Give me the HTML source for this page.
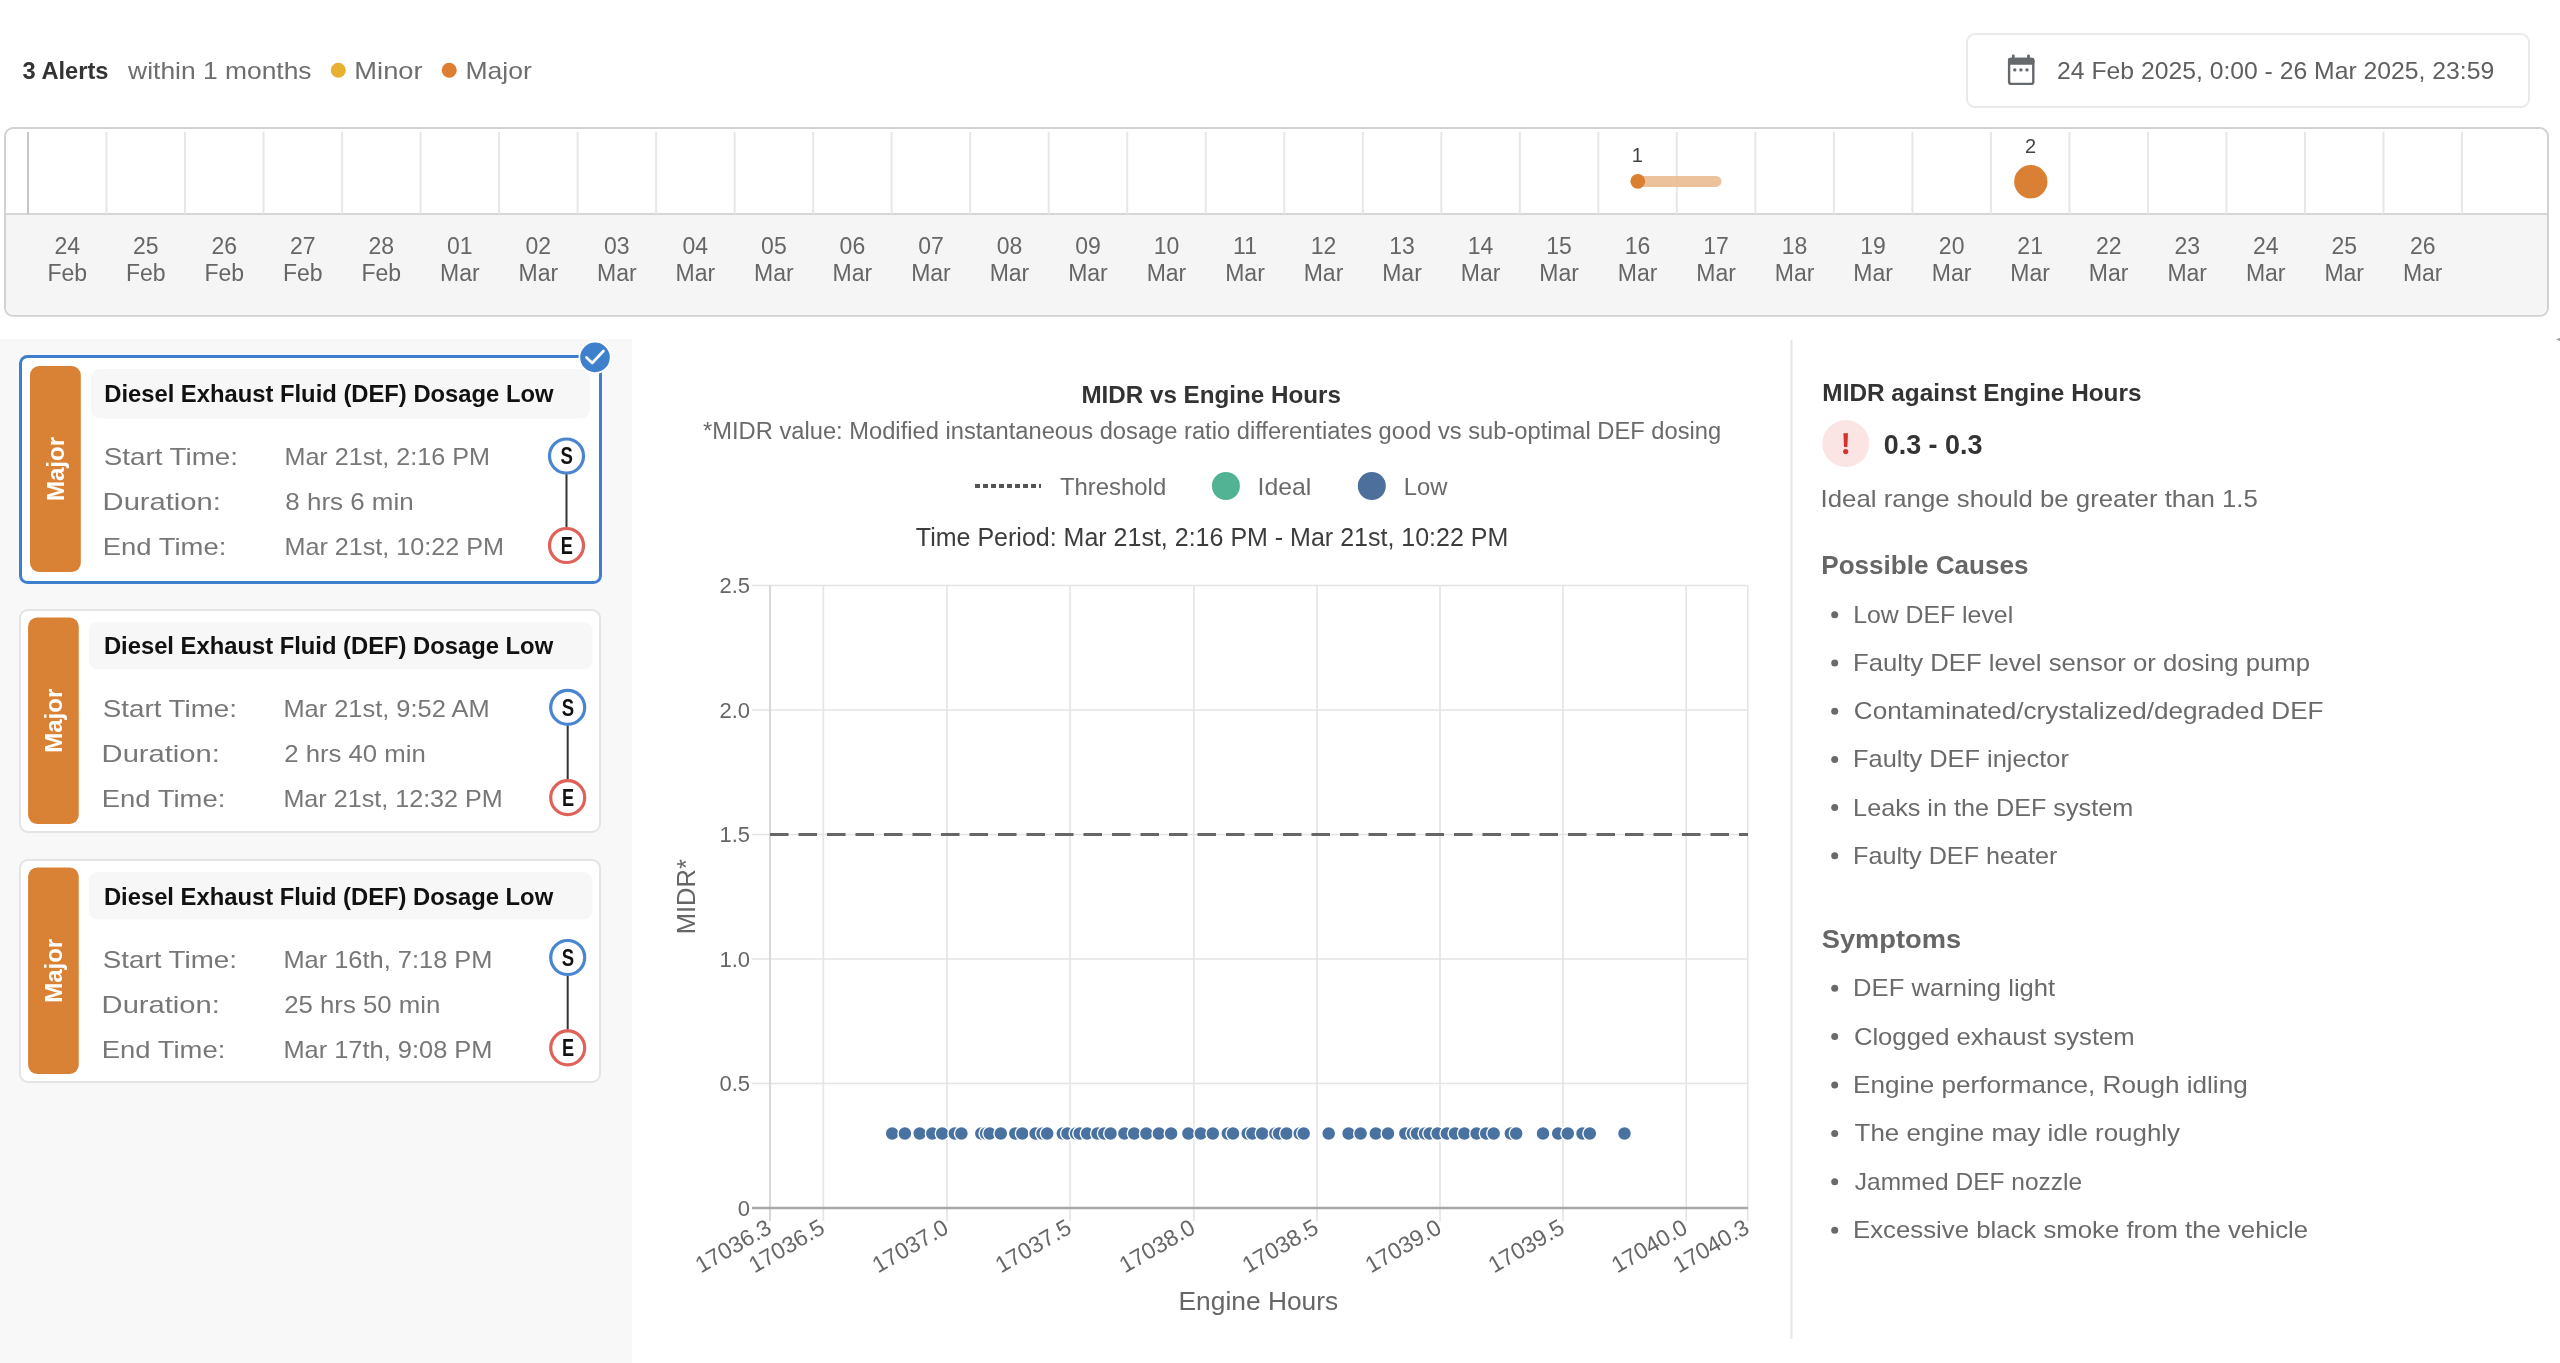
<!DOCTYPE html>
<html><head><meta charset="utf-8"><title>DEF Dosage Alerts</title>
<style>
html,body{margin:0;padding:0;background:#fff;width:2560px;height:1363px;overflow:hidden}
svg{display:block;filter:blur(0.45px);font-family:"Liberation Sans",sans-serif}
</style></head><body>
<svg width="2560" height="1363" viewBox="0 0 2560 1363">
<text x="22.56" y="78.75" font-size="24" font-weight="bold" fill="#333" textLength="85.90" lengthAdjust="spacingAndGlyphs">3 Alerts</text>
<text x="128.14" y="78.75" font-size="24" fill="#6e6e6e" textLength="183.42" lengthAdjust="spacingAndGlyphs">within 1 months</text>
<circle cx="338.3" cy="70.3" r="7.5" fill="#E8B030"/>
<text x="354.36" y="78.75" font-size="24" fill="#6e6e6e" textLength="68.29" lengthAdjust="spacingAndGlyphs">Minor</text>
<circle cx="449.2" cy="70.3" r="7.5" fill="#DD7E32"/>
<text x="465.52" y="78.75" font-size="24" fill="#6e6e6e" textLength="66.32" lengthAdjust="spacingAndGlyphs">Major</text>
<rect x="1967" y="34" width="562" height="73" rx="8" fill="#fff" stroke="#eaeaea" stroke-width="2"/>
<g fill="#65696c"><rect x="2009.1" y="58.9" width="24.2" height="25" rx="2.2" fill="none" stroke="#65696c" stroke-width="2.4"/><rect x="2008" y="57.8" width="26.4" height="7" rx="2"/><rect x="2011.9" y="54.4" width="2.8" height="5.5" rx="1.3"/><rect x="2027.1" y="54.4" width="2.8" height="5.5" rx="1.3"/><circle cx="2014.8" cy="69.9" r="1.7"/><circle cx="2020.9" cy="69.9" r="1.7"/><circle cx="2027" cy="69.9" r="1.7"/></g>
<text x="2057.06" y="78.50" font-size="24" fill="#5f5f5f" textLength="437.11" lengthAdjust="spacingAndGlyphs">24 Feb 2025, 0:00 - 26 Mar 2025, 23:59</text>
<rect x="5" y="128" width="2543" height="187.8" rx="8" fill="#fff" stroke="#d2d2d2" stroke-width="2"/>
<path d="M6 214 H2547 V308 a7 7 0 0 1 -7 7 H13 a7 7 0 0 1 -7 -7 Z" fill="#f5f5f5"/>
<line x1="6" y1="214" x2="2547" y2="214" stroke="#d6d6d6" stroke-width="2"/>
<line x1="28.00" y1="132" x2="28.00" y2="214" stroke="#c6c6c6" stroke-width="2"/>
<line x1="106.52" y1="132" x2="106.52" y2="214" stroke="#e7e7e7" stroke-width="2"/>
<line x1="185.03" y1="132" x2="185.03" y2="214" stroke="#e7e7e7" stroke-width="2"/>
<line x1="263.55" y1="132" x2="263.55" y2="214" stroke="#e7e7e7" stroke-width="2"/>
<line x1="342.06" y1="132" x2="342.06" y2="214" stroke="#e7e7e7" stroke-width="2"/>
<line x1="420.58" y1="132" x2="420.58" y2="214" stroke="#e7e7e7" stroke-width="2"/>
<line x1="499.10" y1="132" x2="499.10" y2="214" stroke="#e7e7e7" stroke-width="2"/>
<line x1="577.61" y1="132" x2="577.61" y2="214" stroke="#e7e7e7" stroke-width="2"/>
<line x1="656.13" y1="132" x2="656.13" y2="214" stroke="#e7e7e7" stroke-width="2"/>
<line x1="734.65" y1="132" x2="734.65" y2="214" stroke="#e7e7e7" stroke-width="2"/>
<line x1="813.16" y1="132" x2="813.16" y2="214" stroke="#e7e7e7" stroke-width="2"/>
<line x1="891.68" y1="132" x2="891.68" y2="214" stroke="#e7e7e7" stroke-width="2"/>
<line x1="970.19" y1="132" x2="970.19" y2="214" stroke="#e7e7e7" stroke-width="2"/>
<line x1="1048.71" y1="132" x2="1048.71" y2="214" stroke="#e7e7e7" stroke-width="2"/>
<line x1="1127.23" y1="132" x2="1127.23" y2="214" stroke="#e7e7e7" stroke-width="2"/>
<line x1="1205.74" y1="132" x2="1205.74" y2="214" stroke="#e7e7e7" stroke-width="2"/>
<line x1="1284.26" y1="132" x2="1284.26" y2="214" stroke="#e7e7e7" stroke-width="2"/>
<line x1="1362.77" y1="132" x2="1362.77" y2="214" stroke="#e7e7e7" stroke-width="2"/>
<line x1="1441.29" y1="132" x2="1441.29" y2="214" stroke="#e7e7e7" stroke-width="2"/>
<line x1="1519.81" y1="132" x2="1519.81" y2="214" stroke="#e7e7e7" stroke-width="2"/>
<line x1="1598.32" y1="132" x2="1598.32" y2="214" stroke="#e7e7e7" stroke-width="2"/>
<line x1="1676.84" y1="132" x2="1676.84" y2="214" stroke="#e7e7e7" stroke-width="2"/>
<line x1="1755.35" y1="132" x2="1755.35" y2="214" stroke="#e7e7e7" stroke-width="2"/>
<line x1="1833.87" y1="132" x2="1833.87" y2="214" stroke="#e7e7e7" stroke-width="2"/>
<line x1="1912.39" y1="132" x2="1912.39" y2="214" stroke="#e7e7e7" stroke-width="2"/>
<line x1="1990.90" y1="132" x2="1990.90" y2="214" stroke="#e7e7e7" stroke-width="2"/>
<line x1="2069.42" y1="132" x2="2069.42" y2="214" stroke="#e7e7e7" stroke-width="2"/>
<line x1="2147.94" y1="132" x2="2147.94" y2="214" stroke="#e7e7e7" stroke-width="2"/>
<line x1="2226.45" y1="132" x2="2226.45" y2="214" stroke="#e7e7e7" stroke-width="2"/>
<line x1="2304.97" y1="132" x2="2304.97" y2="214" stroke="#e7e7e7" stroke-width="2"/>
<line x1="2383.48" y1="132" x2="2383.48" y2="214" stroke="#e7e7e7" stroke-width="2"/>
<line x1="2462.00" y1="132" x2="2462.00" y2="214" stroke="#e7e7e7" stroke-width="2"/>
<text x="67.26" y="253.70" font-size="23" fill="#666" text-anchor="middle">24</text>
<text x="67.26" y="280.80" font-size="23" fill="#666" text-anchor="middle">Feb</text>
<text x="145.77" y="253.70" font-size="23" fill="#666" text-anchor="middle">25</text>
<text x="145.77" y="280.80" font-size="23" fill="#666" text-anchor="middle">Feb</text>
<text x="224.29" y="253.70" font-size="23" fill="#666" text-anchor="middle">26</text>
<text x="224.29" y="280.80" font-size="23" fill="#666" text-anchor="middle">Feb</text>
<text x="302.81" y="253.70" font-size="23" fill="#666" text-anchor="middle">27</text>
<text x="302.81" y="280.80" font-size="23" fill="#666" text-anchor="middle">Feb</text>
<text x="381.32" y="253.70" font-size="23" fill="#666" text-anchor="middle">28</text>
<text x="381.32" y="280.80" font-size="23" fill="#666" text-anchor="middle">Feb</text>
<text x="459.84" y="253.70" font-size="23" fill="#666" text-anchor="middle">01</text>
<text x="459.84" y="280.80" font-size="23" fill="#666" text-anchor="middle">Mar</text>
<text x="538.35" y="253.70" font-size="23" fill="#666" text-anchor="middle">02</text>
<text x="538.35" y="280.80" font-size="23" fill="#666" text-anchor="middle">Mar</text>
<text x="616.87" y="253.70" font-size="23" fill="#666" text-anchor="middle">03</text>
<text x="616.87" y="280.80" font-size="23" fill="#666" text-anchor="middle">Mar</text>
<text x="695.39" y="253.70" font-size="23" fill="#666" text-anchor="middle">04</text>
<text x="695.39" y="280.80" font-size="23" fill="#666" text-anchor="middle">Mar</text>
<text x="773.90" y="253.70" font-size="23" fill="#666" text-anchor="middle">05</text>
<text x="773.90" y="280.80" font-size="23" fill="#666" text-anchor="middle">Mar</text>
<text x="852.42" y="253.70" font-size="23" fill="#666" text-anchor="middle">06</text>
<text x="852.42" y="280.80" font-size="23" fill="#666" text-anchor="middle">Mar</text>
<text x="930.94" y="253.70" font-size="23" fill="#666" text-anchor="middle">07</text>
<text x="930.94" y="280.80" font-size="23" fill="#666" text-anchor="middle">Mar</text>
<text x="1009.45" y="253.70" font-size="23" fill="#666" text-anchor="middle">08</text>
<text x="1009.45" y="280.80" font-size="23" fill="#666" text-anchor="middle">Mar</text>
<text x="1087.97" y="253.70" font-size="23" fill="#666" text-anchor="middle">09</text>
<text x="1087.97" y="280.80" font-size="23" fill="#666" text-anchor="middle">Mar</text>
<text x="1166.48" y="253.70" font-size="23" fill="#666" text-anchor="middle">10</text>
<text x="1166.48" y="280.80" font-size="23" fill="#666" text-anchor="middle">Mar</text>
<text x="1245.00" y="253.70" font-size="23" fill="#666" text-anchor="middle">11</text>
<text x="1245.00" y="280.80" font-size="23" fill="#666" text-anchor="middle">Mar</text>
<text x="1323.52" y="253.70" font-size="23" fill="#666" text-anchor="middle">12</text>
<text x="1323.52" y="280.80" font-size="23" fill="#666" text-anchor="middle">Mar</text>
<text x="1402.03" y="253.70" font-size="23" fill="#666" text-anchor="middle">13</text>
<text x="1402.03" y="280.80" font-size="23" fill="#666" text-anchor="middle">Mar</text>
<text x="1480.55" y="253.70" font-size="23" fill="#666" text-anchor="middle">14</text>
<text x="1480.55" y="280.80" font-size="23" fill="#666" text-anchor="middle">Mar</text>
<text x="1559.06" y="253.70" font-size="23" fill="#666" text-anchor="middle">15</text>
<text x="1559.06" y="280.80" font-size="23" fill="#666" text-anchor="middle">Mar</text>
<text x="1637.58" y="253.70" font-size="23" fill="#666" text-anchor="middle">16</text>
<text x="1637.58" y="280.80" font-size="23" fill="#666" text-anchor="middle">Mar</text>
<text x="1716.10" y="253.70" font-size="23" fill="#666" text-anchor="middle">17</text>
<text x="1716.10" y="280.80" font-size="23" fill="#666" text-anchor="middle">Mar</text>
<text x="1794.61" y="253.70" font-size="23" fill="#666" text-anchor="middle">18</text>
<text x="1794.61" y="280.80" font-size="23" fill="#666" text-anchor="middle">Mar</text>
<text x="1873.13" y="253.70" font-size="23" fill="#666" text-anchor="middle">19</text>
<text x="1873.13" y="280.80" font-size="23" fill="#666" text-anchor="middle">Mar</text>
<text x="1951.65" y="253.70" font-size="23" fill="#666" text-anchor="middle">20</text>
<text x="1951.65" y="280.80" font-size="23" fill="#666" text-anchor="middle">Mar</text>
<text x="2030.16" y="253.70" font-size="23" fill="#666" text-anchor="middle">21</text>
<text x="2030.16" y="280.80" font-size="23" fill="#666" text-anchor="middle">Mar</text>
<text x="2108.68" y="253.70" font-size="23" fill="#666" text-anchor="middle">22</text>
<text x="2108.68" y="280.80" font-size="23" fill="#666" text-anchor="middle">Mar</text>
<text x="2187.19" y="253.70" font-size="23" fill="#666" text-anchor="middle">23</text>
<text x="2187.19" y="280.80" font-size="23" fill="#666" text-anchor="middle">Mar</text>
<text x="2265.71" y="253.70" font-size="23" fill="#666" text-anchor="middle">24</text>
<text x="2265.71" y="280.80" font-size="23" fill="#666" text-anchor="middle">Mar</text>
<text x="2344.23" y="253.70" font-size="23" fill="#666" text-anchor="middle">25</text>
<text x="2344.23" y="280.80" font-size="23" fill="#666" text-anchor="middle">Mar</text>
<text x="2422.74" y="253.70" font-size="23" fill="#666" text-anchor="middle">26</text>
<text x="2422.74" y="280.80" font-size="23" fill="#666" text-anchor="middle">Mar</text>
<text x="1637.20" y="162.00" font-size="20" fill="#444" text-anchor="middle">1</text>
<line x1="1638" y1="181.4" x2="1716" y2="181.4" stroke="#E9B78C" stroke-opacity="0.85" stroke-width="11" stroke-linecap="round"/>
<circle cx="1637.8" cy="181.3" r="7.4" fill="#DB7F30"/>
<text x="2030.50" y="152.60" font-size="20" fill="#444" text-anchor="middle">2</text>
<circle cx="2030.8" cy="181.7" r="16.7" fill="#DA8035"/>
<path d="M2556 339.5 L2560 338 V341 Z" fill="#999"/>
<rect x="0" y="339" width="632" height="1024" fill="#f8f8f8"/>
<rect x="20.5" y="356.5" width="580" height="226" rx="7" fill="#fff" stroke="#3D7FCE" stroke-width="3"/>
<rect x="30" y="366" width="50.8" height="206" rx="9" fill="#D98236"/>
<text transform="translate(64.00,469.00) rotate(-90)" x="0" y="0" font-size="24" font-weight="bold" fill="#fff" text-anchor="middle">Major</text>
<rect x="91" y="369" width="499" height="49.39999999999998" rx="9" fill="#f7f7f7"/>
<text x="104.21" y="401.60" font-size="24" font-weight="bold" fill="#111" textLength="449.24" lengthAdjust="spacingAndGlyphs">Diesel Exhaust Fluid (DEF) Dosage Low</text>
<text x="103.75" y="464.60" font-size="24" fill="#777" textLength="134.25" lengthAdjust="spacingAndGlyphs">Start Time:</text>
<text x="284.44" y="464.60" font-size="24" fill="#777" textLength="205.43" lengthAdjust="spacingAndGlyphs">Mar 21st, 2:16 PM</text>
<text x="102.61" y="509.60" font-size="24" fill="#777" textLength="118.25" lengthAdjust="spacingAndGlyphs">Duration:</text>
<text x="285.37" y="509.60" font-size="24" fill="#777" textLength="128.31" lengthAdjust="spacingAndGlyphs">8 hrs 6 min</text>
<text x="102.78" y="554.60" font-size="24" fill="#777" textLength="123.50" lengthAdjust="spacingAndGlyphs">End Time:</text>
<text x="284.44" y="554.60" font-size="24" fill="#777" textLength="219.63" lengthAdjust="spacingAndGlyphs">Mar 21st, 10:22 PM</text>
<line x1="566.5" y1="474" x2="566.5" y2="527.5" stroke="#333" stroke-width="2"/>
<circle cx="566.5" cy="456" r="17" fill="#fff" stroke="#4A86D0" stroke-width="3.2"/>
<circle cx="566.5" cy="545.5" r="17" fill="#fff" stroke="#E0605A" stroke-width="3.2"/>
<text x="560.47" y="464.10" font-size="23" font-weight="bold" fill="#111" textLength="12.36" lengthAdjust="spacingAndGlyphs">S</text>
<text x="560.68" y="553.80" font-size="23" font-weight="bold" fill="#111" textLength="12.13" lengthAdjust="spacingAndGlyphs">E</text>
<rect x="20" y="610" width="580" height="222" rx="8" fill="#fff" stroke="#e4e4e4" stroke-width="2"/>
<rect x="28.1" y="617.5" width="50.65" height="206.5" rx="9" fill="#D98236"/>
<text transform="translate(62.02,720.75) rotate(-90)" x="0" y="0" font-size="24" font-weight="bold" fill="#fff" text-anchor="middle">Major</text>
<rect x="88.75" y="621.9" width="503.65" height="47.5" rx="9" fill="#f7f7f7"/>
<text x="103.91" y="654.40" font-size="24" font-weight="bold" fill="#111" textLength="449.24" lengthAdjust="spacingAndGlyphs">Diesel Exhaust Fluid (DEF) Dosage Low</text>
<text x="102.75" y="717.30" font-size="24" fill="#777" textLength="134.25" lengthAdjust="spacingAndGlyphs">Start Time:</text>
<text x="283.43" y="717.30" font-size="24" fill="#777" textLength="206.14" lengthAdjust="spacingAndGlyphs">Mar 21st, 9:52 AM</text>
<text x="101.61" y="762.30" font-size="24" fill="#777" textLength="118.25" lengthAdjust="spacingAndGlyphs">Duration:</text>
<text x="284.21" y="762.30" font-size="24" fill="#777" textLength="141.56" lengthAdjust="spacingAndGlyphs">2 hrs 40 min</text>
<text x="101.78" y="807.30" font-size="24" fill="#777" textLength="123.50" lengthAdjust="spacingAndGlyphs">End Time:</text>
<text x="283.44" y="807.30" font-size="24" fill="#777" textLength="219.32" lengthAdjust="spacingAndGlyphs">Mar 21st, 12:32 PM</text>
<line x1="567.7" y1="725.4" x2="567.7" y2="779.7" stroke="#333" stroke-width="2"/>
<circle cx="567.7" cy="707.4" r="17" fill="#fff" stroke="#4A86D0" stroke-width="3.2"/>
<circle cx="567.7" cy="797.7" r="17" fill="#fff" stroke="#E0605A" stroke-width="3.2"/>
<text x="561.67" y="715.50" font-size="23" font-weight="bold" fill="#111" textLength="12.36" lengthAdjust="spacingAndGlyphs">S</text>
<text x="561.88" y="806.00" font-size="23" font-weight="bold" fill="#111" textLength="12.13" lengthAdjust="spacingAndGlyphs">E</text>
<rect x="20" y="860" width="580" height="222" rx="8" fill="#fff" stroke="#e4e4e4" stroke-width="2"/>
<rect x="28.1" y="867.6" width="50.65" height="206.39999999999998" rx="9" fill="#D98236"/>
<text transform="translate(62.02,970.80) rotate(-90)" x="0" y="0" font-size="24" font-weight="bold" fill="#fff" text-anchor="middle">Major</text>
<rect x="88.75" y="872" width="503.65" height="47.5" rx="9" fill="#f7f7f7"/>
<text x="103.91" y="904.50" font-size="24" font-weight="bold" fill="#111" textLength="449.24" lengthAdjust="spacingAndGlyphs">Diesel Exhaust Fluid (DEF) Dosage Low</text>
<text x="102.75" y="967.50" font-size="24" fill="#777" textLength="134.25" lengthAdjust="spacingAndGlyphs">Start Time:</text>
<text x="283.42" y="967.50" font-size="24" fill="#777" textLength="209.07" lengthAdjust="spacingAndGlyphs">Mar 16th, 7:18 PM</text>
<text x="101.61" y="1012.50" font-size="24" fill="#777" textLength="118.25" lengthAdjust="spacingAndGlyphs">Duration:</text>
<text x="284.20" y="1012.50" font-size="24" fill="#777" textLength="156.17" lengthAdjust="spacingAndGlyphs">25 hrs 50 min</text>
<text x="101.78" y="1057.50" font-size="24" fill="#777" textLength="123.50" lengthAdjust="spacingAndGlyphs">End Time:</text>
<text x="283.42" y="1057.50" font-size="24" fill="#777" textLength="209.07" lengthAdjust="spacingAndGlyphs">Mar 17th, 9:08 PM</text>
<line x1="567.7" y1="975.5" x2="567.7" y2="1029.8" stroke="#333" stroke-width="2"/>
<circle cx="567.7" cy="957.5" r="17" fill="#fff" stroke="#4A86D0" stroke-width="3.2"/>
<circle cx="567.7" cy="1047.8" r="17" fill="#fff" stroke="#E0605A" stroke-width="3.2"/>
<text x="561.67" y="965.60" font-size="23" font-weight="bold" fill="#111" textLength="12.36" lengthAdjust="spacingAndGlyphs">S</text>
<text x="561.88" y="1056.10" font-size="23" font-weight="bold" fill="#111" textLength="12.13" lengthAdjust="spacingAndGlyphs">E</text>
<circle cx="595" cy="357.4" r="16.5" fill="#fff"/>
<circle cx="595" cy="357.4" r="14.8" fill="#3F80CC"/>
<path d="M586.5 357.5 L592.2 363 L603.5 351" fill="none" stroke="#fff" stroke-width="2.6" stroke-linecap="round" stroke-linejoin="round"/>
<text x="1081.38" y="403.20" font-size="24" font-weight="bold" fill="#333" textLength="259.61" lengthAdjust="spacingAndGlyphs">MIDR vs Engine Hours</text>
<text x="703.02" y="438.80" font-size="23" fill="#6a6a6a" textLength="1018.21" lengthAdjust="spacingAndGlyphs">*MIDR value: Modified instantaneous dosage ratio differentiates good vs sub-optimal DEF dosing</text>
<line x1="975" y1="486" x2="1041" y2="486" stroke="#555" stroke-width="4" stroke-dasharray="5 3"/>
<text x="1059.96" y="495.40" font-size="24" fill="#6a6a6a" textLength="106.28" lengthAdjust="spacingAndGlyphs">Threshold</text>
<circle cx="1225.9" cy="486" r="14" fill="#52B394"/>
<text x="1257.61" y="495.40" font-size="24" fill="#6a6a6a" textLength="53.75" lengthAdjust="spacingAndGlyphs">Ideal</text>
<circle cx="1371.8" cy="486" r="14" fill="#4C6F9C"/>
<text x="1403.75" y="495.40" font-size="24" fill="#6a6a6a" textLength="43.59" lengthAdjust="spacingAndGlyphs">Low</text>
<text x="915.84" y="546.00" font-size="25" fill="#3d3d3d" textLength="592.51" lengthAdjust="spacingAndGlyphs">Time Period: Mar 21st, 2:16 PM - Mar 21st, 10:22 PM</text>
<line x1="752" y1="585.5" x2="1748" y2="585.5" stroke="#e4e4e4" stroke-width="1.6"/>
<line x1="752" y1="710" x2="1748" y2="710" stroke="#e4e4e4" stroke-width="1.6"/>
<line x1="752" y1="834.5" x2="1748" y2="834.5" stroke="#e4e4e4" stroke-width="1.6"/>
<line x1="752" y1="959" x2="1748" y2="959" stroke="#e4e4e4" stroke-width="1.6"/>
<line x1="752" y1="1083.5" x2="1748" y2="1083.5" stroke="#e4e4e4" stroke-width="1.6"/>
<line x1="823.4" y1="585.5" x2="823.4" y2="1221" stroke="#e4e4e4" stroke-width="1.6"/>
<line x1="947" y1="585.5" x2="947" y2="1221" stroke="#e4e4e4" stroke-width="1.6"/>
<line x1="1070" y1="585.5" x2="1070" y2="1221" stroke="#e4e4e4" stroke-width="1.6"/>
<line x1="1193.9" y1="585.5" x2="1193.9" y2="1221" stroke="#e4e4e4" stroke-width="1.6"/>
<line x1="1317" y1="585.5" x2="1317" y2="1221" stroke="#e4e4e4" stroke-width="1.6"/>
<line x1="1440" y1="585.5" x2="1440" y2="1221" stroke="#e4e4e4" stroke-width="1.6"/>
<line x1="1563" y1="585.5" x2="1563" y2="1221" stroke="#e4e4e4" stroke-width="1.6"/>
<line x1="1686.2" y1="585.5" x2="1686.2" y2="1221" stroke="#e4e4e4" stroke-width="1.6"/>
<line x1="1747.8" y1="585.5" x2="1747.8" y2="1221" stroke="#e4e4e4" stroke-width="1.6"/>
<line x1="770" y1="585.5" x2="770" y2="1221" stroke="#d4d4d4" stroke-width="1.8"/>
<line x1="752" y1="1208" x2="1748" y2="1208" stroke="#a8a8a8" stroke-width="2.5"/>
<text x="750" y="593.3" font-size="22" fill="#666" text-anchor="end">2.5</text>
<text x="750" y="717.8" font-size="22" fill="#666" text-anchor="end">2.0</text>
<text x="750" y="842.3" font-size="22" fill="#666" text-anchor="end">1.5</text>
<text x="750" y="966.8" font-size="22" fill="#666" text-anchor="end">1.0</text>
<text x="750" y="1091.3" font-size="22" fill="#666" text-anchor="end">0.5</text>
<text x="750" y="1215.8" font-size="22" fill="#666" text-anchor="end">0</text>
<text transform="translate(694.8,896.7) rotate(-90)" x="0" y="0" font-size="25.5" fill="#666" text-anchor="middle">MIDR*</text>
<line x1="770" y1="834.5" x2="1748" y2="834.5" stroke="#666" stroke-width="3.2" stroke-dasharray="18.5 10"/>
<circle cx="892.2" cy="1133.5" r="6.95" fill="#4A72A0" stroke="#fff" stroke-width="1.4"/>
<circle cx="904.9" cy="1133.5" r="6.95" fill="#4A72A0" stroke="#fff" stroke-width="1.4"/>
<circle cx="919.7" cy="1133.5" r="6.95" fill="#4A72A0" stroke="#fff" stroke-width="1.4"/>
<circle cx="932.3" cy="1133.5" r="6.95" fill="#4A72A0" stroke="#fff" stroke-width="1.4"/>
<circle cx="942.2" cy="1133.5" r="6.95" fill="#4A72A0" stroke="#fff" stroke-width="1.4"/>
<circle cx="954.8" cy="1133.5" r="6.95" fill="#4A72A0" stroke="#fff" stroke-width="1.4"/>
<circle cx="961.4" cy="1133.5" r="6.95" fill="#4A72A0" stroke="#fff" stroke-width="1.4"/>
<circle cx="981.3" cy="1133.5" r="6.95" fill="#4A72A0" stroke="#fff" stroke-width="1.4"/>
<circle cx="986" cy="1133.5" r="6.95" fill="#4A72A0" stroke="#fff" stroke-width="1.4"/>
<circle cx="989.7" cy="1133.5" r="6.95" fill="#4A72A0" stroke="#fff" stroke-width="1.4"/>
<circle cx="1000.8" cy="1133.5" r="6.95" fill="#4A72A0" stroke="#fff" stroke-width="1.4"/>
<circle cx="1015.3" cy="1133.5" r="6.95" fill="#4A72A0" stroke="#fff" stroke-width="1.4"/>
<circle cx="1022.3" cy="1133.5" r="6.95" fill="#4A72A0" stroke="#fff" stroke-width="1.4"/>
<circle cx="1035.6" cy="1133.5" r="6.95" fill="#4A72A0" stroke="#fff" stroke-width="1.4"/>
<circle cx="1042.5" cy="1133.5" r="6.95" fill="#4A72A0" stroke="#fff" stroke-width="1.4"/>
<circle cx="1047.2" cy="1133.5" r="6.95" fill="#4A72A0" stroke="#fff" stroke-width="1.4"/>
<circle cx="1062.8" cy="1133.5" r="6.95" fill="#4A72A0" stroke="#fff" stroke-width="1.4"/>
<circle cx="1067.5" cy="1133.5" r="6.95" fill="#4A72A0" stroke="#fff" stroke-width="1.4"/>
<circle cx="1076" cy="1133.5" r="6.95" fill="#4A72A0" stroke="#fff" stroke-width="1.4"/>
<circle cx="1079.7" cy="1133.5" r="6.95" fill="#4A72A0" stroke="#fff" stroke-width="1.4"/>
<circle cx="1087.2" cy="1133.5" r="6.95" fill="#4A72A0" stroke="#fff" stroke-width="1.4"/>
<circle cx="1097.5" cy="1133.5" r="6.95" fill="#4A72A0" stroke="#fff" stroke-width="1.4"/>
<circle cx="1104.3" cy="1133.5" r="6.95" fill="#4A72A0" stroke="#fff" stroke-width="1.4"/>
<circle cx="1110.6" cy="1133.5" r="6.95" fill="#4A72A0" stroke="#fff" stroke-width="1.4"/>
<circle cx="1124.4" cy="1133.5" r="6.95" fill="#4A72A0" stroke="#fff" stroke-width="1.4"/>
<circle cx="1134.2" cy="1133.5" r="6.95" fill="#4A72A0" stroke="#fff" stroke-width="1.4"/>
<circle cx="1146.4" cy="1133.5" r="6.95" fill="#4A72A0" stroke="#fff" stroke-width="1.4"/>
<circle cx="1158.9" cy="1133.5" r="6.95" fill="#4A72A0" stroke="#fff" stroke-width="1.4"/>
<circle cx="1171.1" cy="1133.5" r="6.95" fill="#4A72A0" stroke="#fff" stroke-width="1.4"/>
<circle cx="1188.4" cy="1133.5" r="6.95" fill="#4A72A0" stroke="#fff" stroke-width="1.4"/>
<circle cx="1200.8" cy="1133.5" r="6.95" fill="#4A72A0" stroke="#fff" stroke-width="1.4"/>
<circle cx="1212.8" cy="1133.5" r="6.95" fill="#4A72A0" stroke="#fff" stroke-width="1.4"/>
<circle cx="1227.8" cy="1133.5" r="6.95" fill="#4A72A0" stroke="#fff" stroke-width="1.4"/>
<circle cx="1233" cy="1133.5" r="6.95" fill="#4A72A0" stroke="#fff" stroke-width="1.4"/>
<circle cx="1247.7" cy="1133.5" r="6.95" fill="#4A72A0" stroke="#fff" stroke-width="1.4"/>
<circle cx="1252.4" cy="1133.5" r="6.95" fill="#4A72A0" stroke="#fff" stroke-width="1.4"/>
<circle cx="1262.2" cy="1133.5" r="6.95" fill="#4A72A0" stroke="#fff" stroke-width="1.4"/>
<circle cx="1275.3" cy="1133.5" r="6.95" fill="#4A72A0" stroke="#fff" stroke-width="1.4"/>
<circle cx="1279.1" cy="1133.5" r="6.95" fill="#4A72A0" stroke="#fff" stroke-width="1.4"/>
<circle cx="1286.6" cy="1133.5" r="6.95" fill="#4A72A0" stroke="#fff" stroke-width="1.4"/>
<circle cx="1299.7" cy="1133.5" r="6.95" fill="#4A72A0" stroke="#fff" stroke-width="1.4"/>
<circle cx="1303.7" cy="1133.5" r="6.95" fill="#4A72A0" stroke="#fff" stroke-width="1.4"/>
<circle cx="1328.7" cy="1133.5" r="6.95" fill="#4A72A0" stroke="#fff" stroke-width="1.4"/>
<circle cx="1348.6" cy="1133.5" r="6.95" fill="#4A72A0" stroke="#fff" stroke-width="1.4"/>
<circle cx="1360.6" cy="1133.5" r="6.95" fill="#4A72A0" stroke="#fff" stroke-width="1.4"/>
<circle cx="1375.8" cy="1133.5" r="6.95" fill="#4A72A0" stroke="#fff" stroke-width="1.4"/>
<circle cx="1388" cy="1133.5" r="6.95" fill="#4A72A0" stroke="#fff" stroke-width="1.4"/>
<circle cx="1405.3" cy="1133.5" r="6.95" fill="#4A72A0" stroke="#fff" stroke-width="1.4"/>
<circle cx="1412.8" cy="1133.5" r="6.95" fill="#4A72A0" stroke="#fff" stroke-width="1.4"/>
<circle cx="1417" cy="1133.5" r="6.95" fill="#4A72A0" stroke="#fff" stroke-width="1.4"/>
<circle cx="1425" cy="1133.5" r="6.95" fill="#4A72A0" stroke="#fff" stroke-width="1.4"/>
<circle cx="1429.7" cy="1133.5" r="6.95" fill="#4A72A0" stroke="#fff" stroke-width="1.4"/>
<circle cx="1437.7" cy="1133.5" r="6.95" fill="#4A72A0" stroke="#fff" stroke-width="1.4"/>
<circle cx="1446.9" cy="1133.5" r="6.95" fill="#4A72A0" stroke="#fff" stroke-width="1.4"/>
<circle cx="1455" cy="1133.5" r="6.95" fill="#4A72A0" stroke="#fff" stroke-width="1.4"/>
<circle cx="1464.4" cy="1133.5" r="6.95" fill="#4A72A0" stroke="#fff" stroke-width="1.4"/>
<circle cx="1476.6" cy="1133.5" r="6.95" fill="#4A72A0" stroke="#fff" stroke-width="1.4"/>
<circle cx="1486.2" cy="1133.5" r="6.95" fill="#4A72A0" stroke="#fff" stroke-width="1.4"/>
<circle cx="1493.7" cy="1133.5" r="6.95" fill="#4A72A0" stroke="#fff" stroke-width="1.4"/>
<circle cx="1510.8" cy="1133.5" r="6.95" fill="#4A72A0" stroke="#fff" stroke-width="1.4"/>
<circle cx="1516.2" cy="1133.5" r="6.95" fill="#4A72A0" stroke="#fff" stroke-width="1.4"/>
<circle cx="1543" cy="1133.5" r="6.95" fill="#4A72A0" stroke="#fff" stroke-width="1.4"/>
<circle cx="1558.2" cy="1133.5" r="6.95" fill="#4A72A0" stroke="#fff" stroke-width="1.4"/>
<circle cx="1567.8" cy="1133.5" r="6.95" fill="#4A72A0" stroke="#fff" stroke-width="1.4"/>
<circle cx="1582.5" cy="1133.5" r="6.95" fill="#4A72A0" stroke="#fff" stroke-width="1.4"/>
<circle cx="1589.8" cy="1133.5" r="6.95" fill="#4A72A0" stroke="#fff" stroke-width="1.4"/>
<circle cx="1624.5" cy="1133.5" r="6.95" fill="#4A72A0" stroke="#fff" stroke-width="1.4"/>
<text transform="translate(773.0,1232) rotate(-30)" x="0" y="0" font-size="23" fill="#666" text-anchor="end">17036.3</text>
<text transform="translate(826.4,1232) rotate(-30)" x="0" y="0" font-size="23" fill="#666" text-anchor="end">17036.5</text>
<text transform="translate(950.0,1232) rotate(-30)" x="0" y="0" font-size="23" fill="#666" text-anchor="end">17037.0</text>
<text transform="translate(1073.0,1232) rotate(-30)" x="0" y="0" font-size="23" fill="#666" text-anchor="end">17037.5</text>
<text transform="translate(1196.9,1232) rotate(-30)" x="0" y="0" font-size="23" fill="#666" text-anchor="end">17038.0</text>
<text transform="translate(1320.0,1232) rotate(-30)" x="0" y="0" font-size="23" fill="#666" text-anchor="end">17038.5</text>
<text transform="translate(1443.0,1232) rotate(-30)" x="0" y="0" font-size="23" fill="#666" text-anchor="end">17039.0</text>
<text transform="translate(1566.0,1232) rotate(-30)" x="0" y="0" font-size="23" fill="#666" text-anchor="end">17039.5</text>
<text transform="translate(1689.2,1232) rotate(-30)" x="0" y="0" font-size="23" fill="#666" text-anchor="end">17040.0</text>
<text transform="translate(1750.8,1232) rotate(-30)" x="0" y="0" font-size="23" fill="#666" text-anchor="end">17040.3</text>
<text x="1178.54" y="1310.20" font-size="26" fill="#666" textLength="159.71" lengthAdjust="spacingAndGlyphs">Engine Hours</text>
<line x1="1791.5" y1="340" x2="1791.5" y2="1339" stroke="#e6e6e6" stroke-width="2"/>
<text x="1822.37" y="400.60" font-size="24" font-weight="bold" fill="#333" textLength="319.13" lengthAdjust="spacingAndGlyphs">MIDR against Engine Hours</text>
<circle cx="1845.8" cy="443.6" r="23.5" fill="#FBE4E4"/>
<path d="M1843.4 433.2 H1848.0 L1847.4 447.0 H1844.0 Z" fill="#D6322C"/><circle cx="1845.7" cy="451.6" r="2.6" fill="#D6322C"/>
<text x="1883.74" y="454.30" font-size="27" font-weight="bold" fill="#333" textLength="98.63" lengthAdjust="spacingAndGlyphs">0.3 - 0.3</text>
<text x="1820.62" y="506.50" font-size="24" fill="#6a6a6a" textLength="437.26" lengthAdjust="spacingAndGlyphs">Ideal range should be greater than 1.5</text>
<text x="1821.26" y="574.30" font-size="26" font-weight="bold" fill="#666" textLength="207.21" lengthAdjust="spacingAndGlyphs">Possible Causes</text>
<circle cx="1834.7" cy="614.8" r="3.5" fill="#6a6a6a"/>
<text x="1853.16" y="622.80" font-size="24" fill="#6a6a6a" textLength="160.00" lengthAdjust="spacingAndGlyphs">Low DEF level</text>
<circle cx="1834.7" cy="663.0" r="3.5" fill="#6a6a6a"/>
<text x="1853.09" y="671.00" font-size="24" fill="#6a6a6a" textLength="456.99" lengthAdjust="spacingAndGlyphs">Faulty DEF level sensor or dosing pump</text>
<circle cx="1834.7" cy="711.2" r="3.5" fill="#6a6a6a"/>
<text x="1853.88" y="719.20" font-size="24" fill="#6a6a6a" textLength="469.67" lengthAdjust="spacingAndGlyphs">Contaminated/crystalized/degraded DEF</text>
<circle cx="1834.7" cy="759.4" r="3.5" fill="#6a6a6a"/>
<text x="1853.12" y="767.40" font-size="24" fill="#6a6a6a" textLength="215.80" lengthAdjust="spacingAndGlyphs">Faulty DEF injector</text>
<circle cx="1834.7" cy="807.6" r="3.5" fill="#6a6a6a"/>
<text x="1853.13" y="815.60" font-size="24" fill="#6a6a6a" textLength="280.03" lengthAdjust="spacingAndGlyphs">Leaks in the DEF system</text>
<circle cx="1834.7" cy="855.8" r="3.5" fill="#6a6a6a"/>
<text x="1853.13" y="863.80" font-size="24" fill="#6a6a6a" textLength="204.28" lengthAdjust="spacingAndGlyphs">Faulty DEF heater</text>
<text x="1821.71" y="948.20" font-size="26" font-weight="bold" fill="#666" textLength="139.40" lengthAdjust="spacingAndGlyphs">Symptoms</text>
<circle cx="1834.7" cy="988.2" r="3.5" fill="#6a6a6a"/>
<text x="1853.10" y="996.20" font-size="24" fill="#6a6a6a" textLength="202.09" lengthAdjust="spacingAndGlyphs">DEF warning light</text>
<circle cx="1834.7" cy="1036.6" r="3.5" fill="#6a6a6a"/>
<text x="1853.90" y="1044.60" font-size="24" fill="#6a6a6a" textLength="280.79" lengthAdjust="spacingAndGlyphs">Clogged exhaust system</text>
<circle cx="1834.7" cy="1085.0" r="3.5" fill="#6a6a6a"/>
<text x="1853.06" y="1093.00" font-size="24" fill="#6a6a6a" textLength="394.62" lengthAdjust="spacingAndGlyphs">Engine performance, Rough idling</text>
<circle cx="1834.7" cy="1133.4" r="3.5" fill="#6a6a6a"/>
<text x="1854.62" y="1141.40" font-size="24" fill="#6a6a6a" textLength="325.43" lengthAdjust="spacingAndGlyphs">The engine may idle roughly</text>
<circle cx="1834.7" cy="1181.8" r="3.5" fill="#6a6a6a"/>
<text x="1854.82" y="1189.80" font-size="24" fill="#6a6a6a" textLength="227.27" lengthAdjust="spacingAndGlyphs">Jammed DEF nozzle</text>
<circle cx="1834.7" cy="1230.2" r="3.5" fill="#6a6a6a"/>
<text x="1853.09" y="1238.20" font-size="24" fill="#6a6a6a" textLength="455.06" lengthAdjust="spacingAndGlyphs">Excessive black smoke from the vehicle</text>
</svg>
</body></html>
